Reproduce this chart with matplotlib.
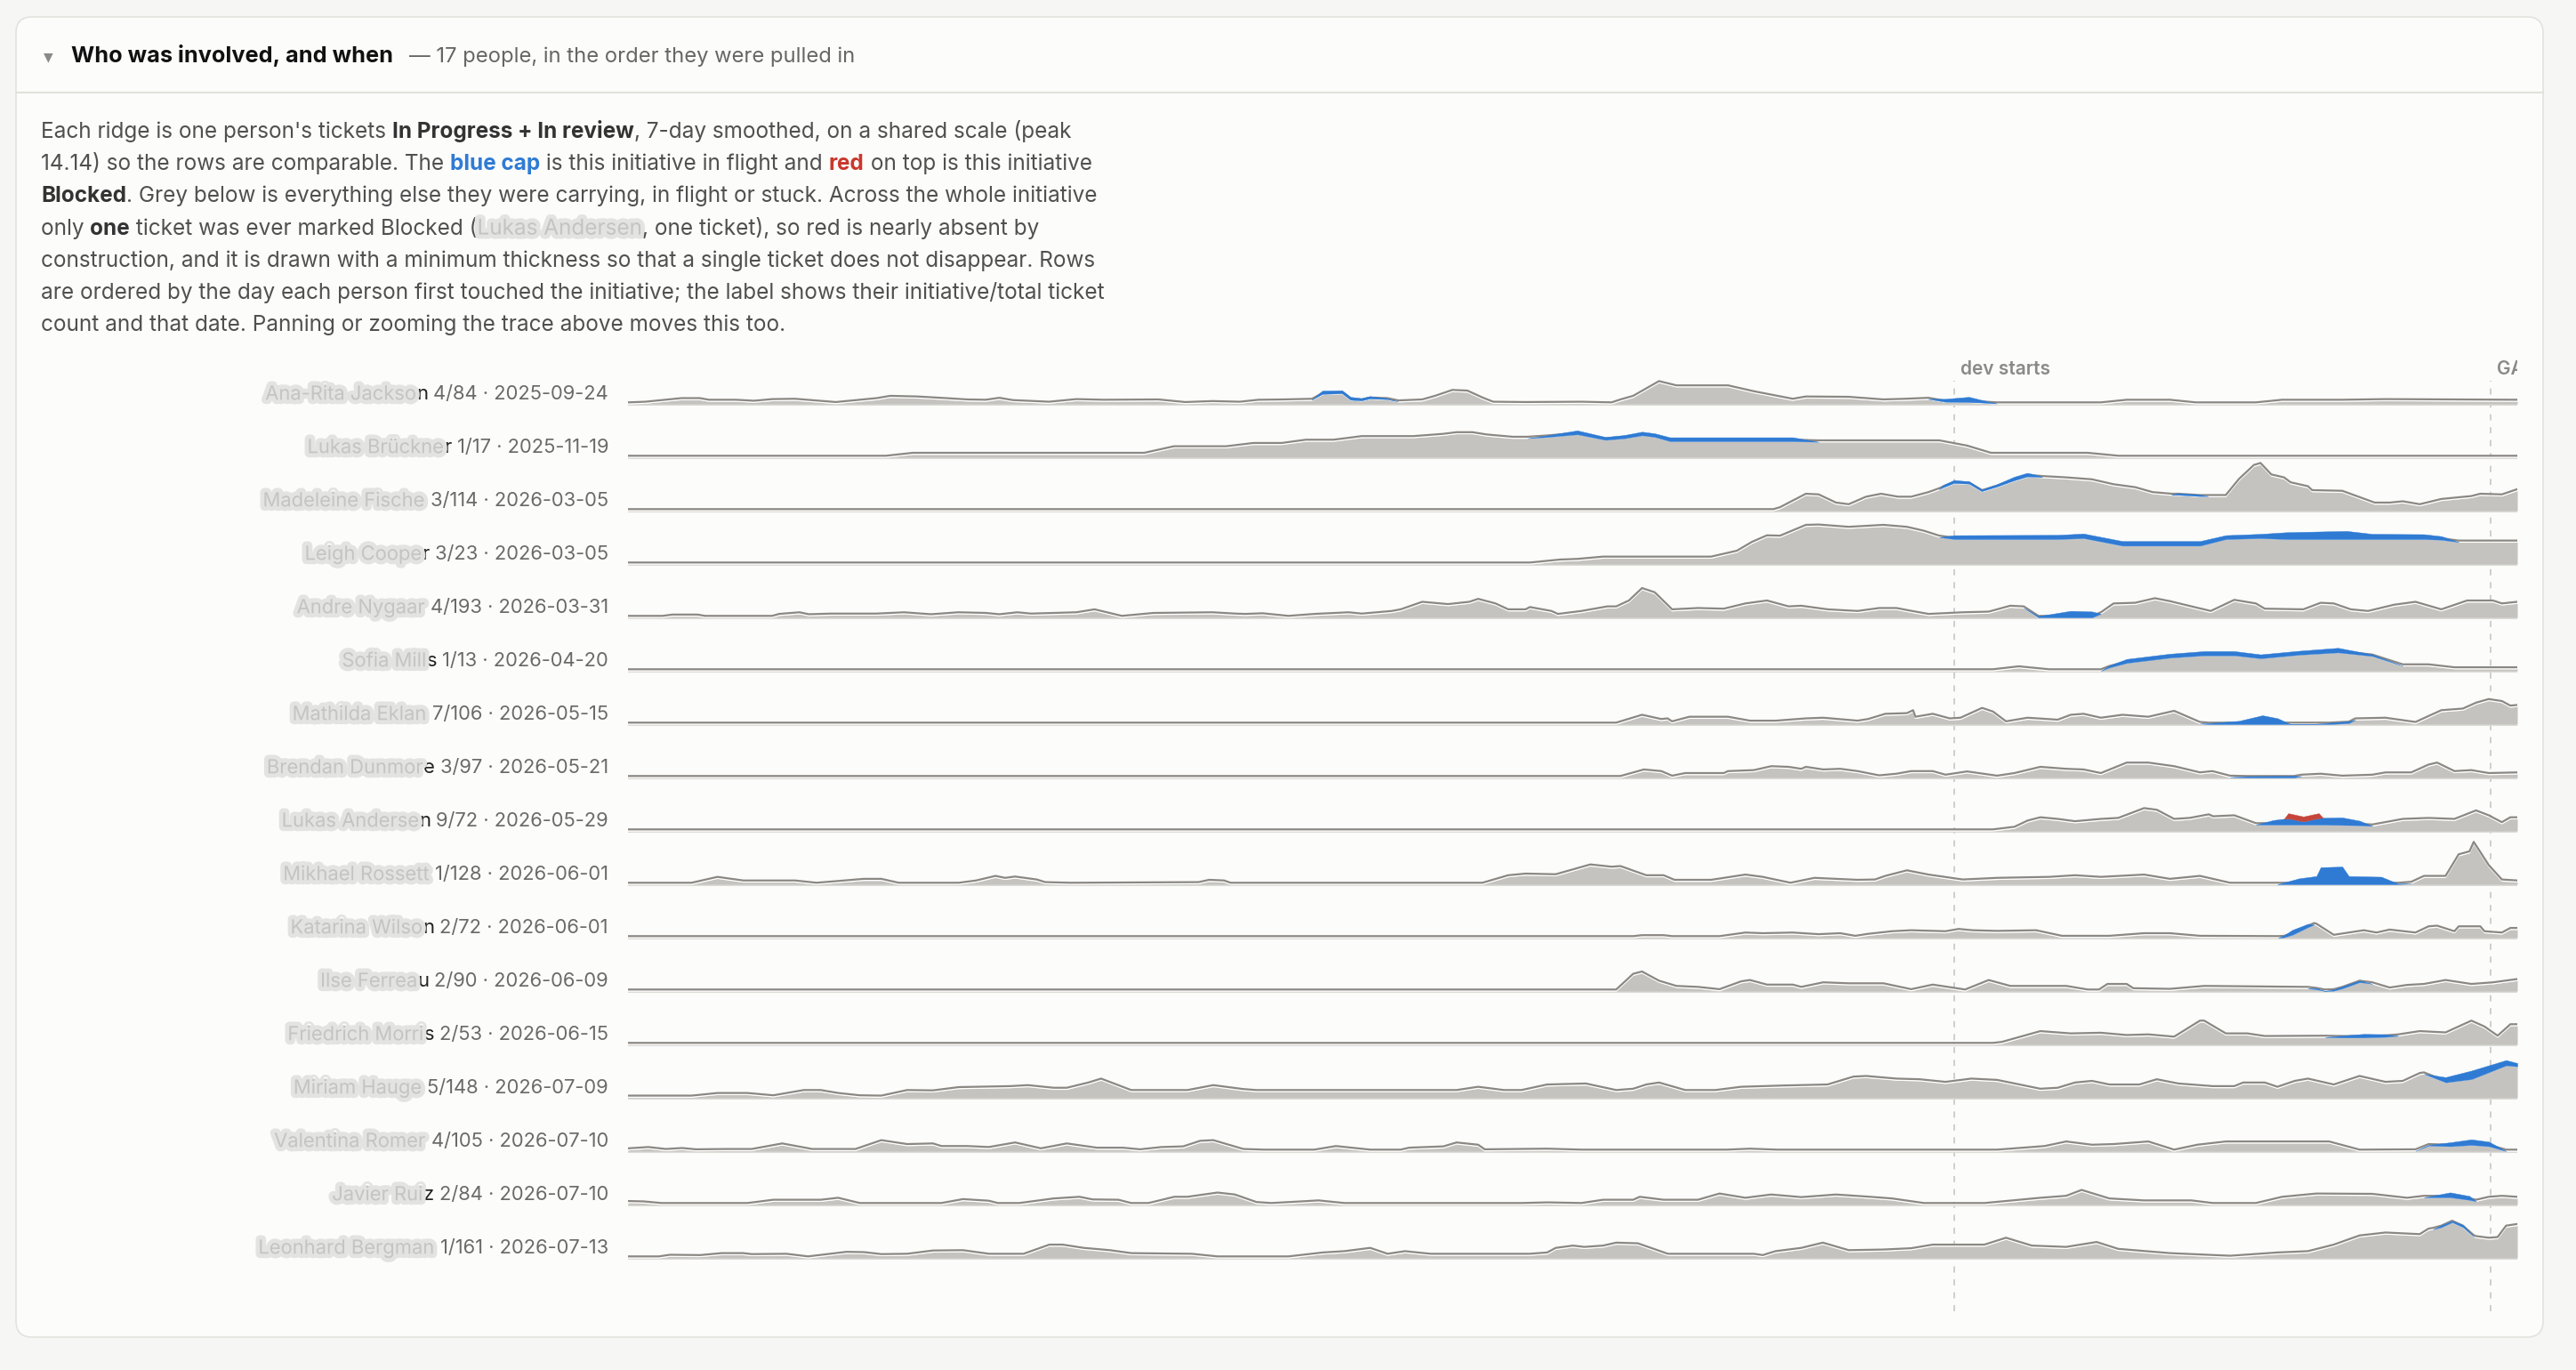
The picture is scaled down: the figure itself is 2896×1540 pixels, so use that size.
import numpy as np
import matplotlib
matplotlib.use("Agg")
import matplotlib.pyplot as plt
from matplotlib.patches import FancyBboxPatch
from matplotlib import patheffects as pe
from matplotlib import transforms

# ---- data (x = days since 2025-03-27, y = tickets, 7-day smoothed) ----
row_names = ["Ana-Rita Jackson", "Lukas Brückner", "Madeleine Fischer", "Leigh Cooper",
             "Andre Nygaard", "Sofia Mills", "Mathilda Ekland", "Brendan Dunmore",
             "Lukas Andersen", "Mikhael Rossetti", "Katarina Wilson", "Ilse Ferreau",
             "Friedrich Morris", "Miriam Haugen", "Valentina Romero", "Javier Ruiz",
             "Leonhard Bergmann"]
row_counts = ["4/84", "1/17", "3/114", "3/23", "4/193", "1/13", "7/106", "3/97", "9/72",
              "1/128", "2/72", "2/90", "2/53", "5/148", "4/105", "2/84", "1/161"]
row_dates = ["2025-09-24", "2025-11-19", "2026-03-05", "2026-03-05", "2026-03-31",
             "2026-04-20", "2026-05-15", "2026-05-21", "2026-05-29", "2026-06-01",
             "2026-06-01", "2026-06-09", "2026-06-15", "2026-07-09", "2026-07-10",
             "2026-07-10", "2026-07-13"]

dev_start_day = 344
ga_day = 483
last_day = 490

# grey: everything else each person carried
other_pts = [
    [(0, 0), (4.5, 0.2), (13.9, 1.3), (18.6, 1.3), (21, 0.8), (28, 0.8), (32.7, 0.5), (37.4, 1.0),
     (43.3, 1.1), (53.9, 0.1), (64.5, 1.3), (68, 2.0), (75.1, 1.8), (81, 1.4), (88, 0.9), (92.8, 0.8),
     (96.3, 1.4), (99.8, 0.7), (109.2, 0.2), (116.3, 1.0), (123.4, 0.8), (137.5, 0.9), (144.5, 0.1),
     (151.6, 0.4), (158.7, 0.2), (163.5, 0.8), (170, 0.9), (177.4, 1.1), (180.2, 2.9), (185.3, 3.1),
     (187.5, 1.1), (190.3, 0.9), (192.5, 1.5), (197, 1.3), (199.8, 0.6), (206, 0.9), (209.3, 2.0),
     (213.8, 3.8), (217.7, 3.6), (221.6, 1.5), (224.4, 0.2), (232.8, 0.1), (247.3, 0.2), (255.1, 0),
     (257.4, 0.9), (260.7, 2.0), (267.4, 6.5), (271.9, 5.2), (285.3, 5.2), (292, 3.4), (302.1, 1.1),
     (305.5, 1.8), (316.6, 1.7), (325.6, 0.9), (331.2, 1.1), (337.3, 1.4), (341.7, 0.5), (347.9, 0.4),
     (350.7, 0.3), (355.1, 0), (382, 0), (388.7, 0.8), (399.9, 0.8), (406.6, 0), (422.2, 0), (429, 0.8),
     (444.6, 0.8), (455.8, 1.0), (490, 0.8)],
    [(0, 0), (66.9, 0), (73.9, 0.9), (133.9, 0.9), (141.6, 2.9), (155.1, 2.9), (162.2, 3.9), (169.5, 3.9),
     (175.8, 4.9), (183, 4.9), (190.3, 6.0), (203.7, 6.0), (211.5, 6.7), (214.9, 7.2), (219, 7.2),
     (222.7, 6.5), (229.4, 5.8), (233.3, 5.8), (238.4, 6.2), (246.2, 7.0), (253.5, 5.3), (258.5, 5.8),
     (263, 6.7), (266.3, 6.2), (270.2, 4.9), (302.1, 4.9), (308.8, 4.7), (340.1, 4.7), (347.3, 3.1),
     (353.5, 0.9), (378.6, 0.9), (386.5, 0), (490, 0)],
    [(0, 0), (297.1, 0), (298.8, 0.6), (305.5, 4.7), (308.8, 4.5), (313.3, 2.0), (316.6, 1.5), (321.1, 3.8),
     (325, 4.7), (329.4, 3.8), (332.8, 3.8), (337.3, 5.2), (340.1, 6.4), (341.2, 7.0), (344, 8.3),
     (347.9, 8.1), (351.2, 5.8), (355.1, 7.2), (359.6, 9.1), (363, 10.3), (365.8, 10.2), (366.9, 10.1),
     (373, 9.7), (379.7, 9.1), (385.3, 7.6), (390.9, 6.7), (395.4, 5.2), (400.4, 4.7), (402.1, 4.7),
     (407.7, 4.3), (409.9, 4.3), (414.4, 4.3), (417.8, 9.2), (421.7, 13.5), (423.4, 14.1), (426.2, 10.6),
     (429.5, 9.7), (431.2, 8.2), (435.7, 7.0), (436.8, 5.8), (444.6, 5.6), (453, 2.0), (456.9, 2.0),
     (460.3, 2.4), (464.7, 1.5), (470.3, 3.1), (478.1, 4.0), (480.4, 4.7), (486, 4.5), (490, 6.1)],
    [(0, 0), (234, 0), (241.7, 0.9), (246.2, 1.1), (252.9, 1.8), (280.9, 1.8), (287.6, 3.6), (291.5, 6.3),
     (295.4, 8.3), (298.8, 8.2), (305.5, 11.5), (308.8, 11.6), (316.6, 10.9), (325.6, 11.5), (331.7, 10.9),
     (336.1, 9.7), (340.1, 8.2), (344, 7.6), (370.8, 7.6), (377.5, 7.9), (387.6, 5.6), (407.7, 5.6),
     (414.4, 7.6), (423.4, 7.9), (430.1, 7.6), (445.7, 7.6), (452.4, 7.6), (465.8, 7.6), (470.3, 7.4),
     (474.8, 6.7), (490, 6.7)],
    [(0, 0), (9, 0), (11.5, 0.4), (18, 0.4), (20, 0), (37.4, 0), (39.2, 0.6), (44.5, 1.1), (46.9, 0.5),
     (52.7, 0.7), (64.5, 0.7), (71.6, 1.1), (78.6, 0.5), (85.7, 1.1), (92.8, 0.9), (96.3, 0.5), (101, 1.1),
     (104.5, 0.7), (116.3, 1.1), (121, 2.0), (128.1, 0), (136.3, 0.9), (151.6, 1.1), (157.5, 0.7),
     (160.1, 0.6), (164.6, 0.8), (171.3, 0), (178, 0.6), (186.9, 1.1), (190.3, 0.7), (198.1, 1.5),
     (200.4, 2.0), (206, 4.3), (212.7, 3.6), (218.2, 4.3), (220.5, 5.2), (225, 3.8), (228.3, 2.0),
     (232.8, 2.0), (233.9, 2.7), (239.5, 1.5), (241.2, 0.6), (247.3, 1.5), (254, 2.9), (256.3, 2.9),
     (259.6, 4.7), (263, 8.5), (266.3, 7.2), (270.8, 2.0), (277.5, 2.4), (284.2, 2.2), (289.8, 3.8),
     (295.4, 4.7), (301, 2.9), (304.3, 3.1), (311.1, 2.0), (318.9, 1.5), (324.5, 2.4), (329, 2.4),
     (333, 1.5), (337.3, 0.6), (346.2, 1.1), (352.9, 1.3), (358.5, 3.1), (362, 2.9), (365.8, 0),
     (374.2, 0), (379.7, 0), (382, 1.1), (385.3, 3.8), (390.9, 4.0), (396, 5.4), (399.9, 4.5),
     (405.5, 2.9), (410.5, 1.5), (416.6, 4.9), (422.2, 3.8), (424.5, 2.2), (434.5, 2.0), (439, 4.0),
     (442.4, 3.8), (446.8, 2.0), (451.3, 1.5), (458, 3.4), (463.6, 4.3), (470.3, 2.0), (477, 4.7),
     (483.7, 4.7), (486, 3.8), (490, 4.3)],
    [(0, 0), (354, 0), (360.7, 0.9), (368.6, 0), (382, 0), (384.2, 1.0), (388.7, 2.4), (399.9, 4.0),
     (408.8, 4.7), (416.6, 4.7), (423.4, 3.8), (433.4, 4.9), (443.5, 5.6), (452.4, 4.5), (460.3, 1.5),
     (467, 1.5), (473.7, 0.6), (490, 0.6)],
    [(0, 0), (256.3, 0), (263, 2.4), (268, 1.1), (269.6, 1.3), (270.8, 0.4), (275.3, 1.8), (285.3, 1.8),
     (291, 0.6), (297.7, 0.6), (305.5, 1.3), (310, 1.5), (318.9, 0.6), (321.6, 1.1), (326.1, 2.7),
     (331.7, 2.9), (333.3, 3.8), (333.9, 1.8), (338.4, 2.7), (342.8, 1.3), (345.6, 1.5), (351.2, 4.5),
     (354, 3.4), (357.4, 0.4), (363, 1.5), (370.8, 0.9), (374.2, 2.4), (377.5, 2.7), (382, 1.5),
     (387.6, 2.4), (394.3, 1.8), (401, 3.6), (407.7, 0.2), (410, 0), (417.8, 0), (423.9, 0), (427.8, 0),
     (431.2, 0), (436.8, 0), (441.2, 0), (446.3, 0.3), (448, 1.3), (455.8, 1.5), (463.6, 0.2),
     (470.3, 3.8), (475.9, 4.3), (479.3, 6.1), (482.6, 7.2), (486, 6.6), (488.2, 5.2), (490, 5.4)],
    [(0, 0), (257.4, 0), (263.5, 2.0), (268, 1.5), (270.8, 0.1), (274.2, 0.9), (284.2, 0.9), (285.3, 1.5),
     (292, 1.8), (296.5, 3.0), (301, 2.8), (304.3, 2.2), (305.5, 2.8), (310, 2.0), (314.4, 2.2),
     (318.9, 1.5), (324.5, 0.2), (329, 0.7), (332.8, 1.5), (338.4, 1.5), (341.7, 0.4), (347.3, 1.4),
     (355.1, 0.1), (359.6, 0.9), (366.3, 2.8), (373, 2.2), (377.5, 2.0), (382, 0.9), (388.7, 4.1),
     (394.3, 4.1), (401, 3.0), (407.7, 1.1), (410.9, 1.5), (415.5, 0.1), (420, 0), (432, 0), (434, 0.4),
     (439, 0.7), (444.6, 0.1), (452.4, 0.4), (455.8, 1.1), (462.5, 1.1), (467, 3.5), (469.2, 4.1),
     (473.7, 1.5), (478.1, 1.8), (482.6, 0.9), (490, 1.1)],
    [(0, 0), (354, 0), (359.6, 0.8), (363, 2.7), (366.3, 3.7), (370.8, 3.2), (375.3, 2.5), (382, 3.2),
     (386.5, 3.5), (393.2, 6.5), (396.5, 6.0), (401, 3.2), (405, 3.5), (410, 4.6), (411.1, 4.0),
     (416.6, 4.3), (422.2, 1.9), (426.7, 1.9), (429.5, 1.9), (430.6, 1.9), (434.5, 1.9), (438.5, 1.9),
     (439.6, 1.9), (444.6, 1.8), (449.1, 1.7), (452.4, 1.5), (460.3, 3.2), (467, 3.5), (473.7, 3.2),
     (479.3, 5.8), (482.6, 4.3), (486, 2.2), (488.2, 3.7), (490, 3.7)],
    [(0, 0), (16.5, 0), (23.2, 1.8), (29.9, 0.7), (43.3, 0.7), (48.9, 0), (61.2, 1.2), (65.7, 1.2),
     (70.2, 0), (85.8, 0), (90.3, 0.7), (95.3, 2.1), (97.8, 1.5), (100.4, 1.9), (106, 1.0), (108.2, 0.2),
     (114.9, 0), (148, 0.2), (150.7, 0.9), (154.6, 0.7), (156.3, 0), (221.6, 0), (228.3, 2.3),
     (232.8, 2.8), (240.6, 2.6), (249.6, 5.6), (255.1, 4.9), (257.4, 5.1), (264.1, 2.3), (268.6, 2.3),
     (271.4, 0.9), (280.9, 0.9), (289.8, 2.5), (294.3, 1.8), (301.5, 0), (307.7, 1.5), (318.9, 0.9),
     (323.4, 1.0), (326.1, 2.1), (331.7, 3.8), (337.3, 2.5), (346.2, 1.0), (355.1, 1.5), (368.6, 1.8),
     (375.3, 2.3), (382, 1.8), (393.2, 2.5), (399.9, 1.2), (407.7, 2.1), (415.5, 0), (427.8, 0),
     (433.4, 0), (437.9, 0), (439, 0), (444.6, 0), (446.3, 0), (454.7, 0), (459.1, 0), (462.5, 0.3),
     (465.8, 2.1), (471.4, 2.1), (474.8, 8.7), (477.6, 9.6), (478.7, 12.5), (482.6, 5.4), (486, 1.0),
     (490, 0.7)],
    [(0, 0), (260.7, 0), (263, 0.3), (268.6, 0.3), (270.8, 0), (283.1, 0), (289.8, 1.1), (294.3, 0.9),
     (302.1, 1.1), (308.8, 0.6), (314.4, 0.9), (318.3, 0.1), (321.6, 0.7), (327.8, 1.5), (332.8, 1.8),
     (341.7, 1.5), (345.1, 2.2), (348.7, 1.8), (355.1, 1.6), (365.2, 1.8), (371.9, 0.1), (384.2, 0.1),
     (393.2, 0.9), (399.9, 0.9), (407.7, 0.1), (428, 0), (429.5, 0.1), (431.7, 0.9), (435.7, 3.2),
     (437.3, 4.0), (437.9, 3.8), (442.4, 0.4), (450.2, 1.8), (453.5, 1.1), (456.9, 2.0), (463.6, 1.1),
     (467, 3.0), (469.2, 3.2), (473.7, 1.5), (474.8, 3.0), (480.4, 3.0), (481.5, 1.5), (486, 1.1),
     (488.2, 2.5), (490, 2.5)],
    [(0, 0), (256.3, 0), (260.7, 4.8), (263, 5.5), (267.4, 2.7), (271.9, 1.1), (277.5, 0.8), (283.1, 0.1),
     (288.7, 2.5), (291, 2.9), (295.4, 1.5), (302.1, 1.5), (304.3, 0.8), (310, 2.2), (316.6, 1.9),
     (325.6, 1.9), (332.8, 0.1), (338.4, 1.5), (346.8, 0), (352.9, 2.9), (358.5, 1.1), (373, 1.1),
     (378.6, 0), (381.5, 0), (383.7, 1.7), (388.7, 1.7), (390.4, 0.4), (399.9, 0.2), (408.8, 1.1),
     (435.7, 0.8), (437.9, 0.5), (440.1, 0), (442.4, 0.1), (444.6, 0.8), (449.1, 2.7), (452.4, 2.2),
     (456.9, 0.6), (461.4, 1.4), (465.8, 1.7), (471.4, 2.9), (478.1, 1.7), (483.7, 2.2), (490, 3.2)],
    [(0, 0), (354, 0), (356.3, 0.3), (366.3, 3.6), (374.2, 2.9), (382, 3.1), (388.7, 2.4), (394.3, 2.6),
     (401, 1.9), (407.7, 6.8), (408.8, 6.8), (414.4, 2.9), (420, 2.9), (424.5, 2.1), (440.1, 2.2),
     (444.6, 2.1), (450.2, 2.1), (455.8, 2.3), (459.1, 2.6), (464.7, 3.6), (471.4, 3.2), (478.1, 6.8),
     (481.5, 5.0), (484.9, 2.2), (488.2, 5.7), (490, 5.7)],
    [(0, 0.2), (16.5, 0.2), (23.2, 1.0), (31, 1.0), (37.7, 0.3), (45.6, 1.9), (50, 1.9), (54.5, 1.0),
     (60.1, 0.3), (65.7, 0.2), (72.4, 1.9), (79.1, 1.8), (85.8, 2.8), (99.2, 3.1), (103.7, 3.4),
     (110.4, 2.6), (113.8, 2.6), (119.4, 4.2), (122.7, 5.4), (130.5, 1.9), (145.1, 1.9), (151.8, 3.4),
     (159.6, 2.2), (163, 1.9), (214.9, 1.9), (220.5, 2.9), (227.2, 1.9), (231.7, 1.9), (238.4, 3.6),
     (248.4, 3.9), (256.3, 1.9), (260.7, 2.3), (264.1, 3.6), (267.4, 4.2), (274.2, 1.9), (282, 1.9),
     (288.7, 2.9), (299.9, 3.3), (311.1, 3.6), (317.8, 6.0), (321.1, 6.2), (329, 5.4), (335, 5.2),
     (341.7, 4.4), (348.4, 5.4), (355.1, 5.0), (366.3, 2.3), (370.8, 2.6), (375.3, 4.2), (379.7, 4.7),
     (384.2, 3.6), (392, 3.6), (396.5, 5.2), (402.1, 3.9), (411, 3.1), (416.6, 3.1), (418.9, 4.2),
     (424.5, 4.2), (427.8, 2.9), (432.3, 4.7), (435.7, 5.4), (442.4, 3.6), (449.1, 6.2), (455.8, 4.4),
     (460.3, 4.7), (464.7, 7.1), (465.8, 7.3), (471.4, 4.7), (478.1, 5.7), (482.6, 7.8), (487.1, 9.9),
     (490, 9.6)],
    [(0, 0.4), (5.3, 0.8), (9.8, 0.2), (14, 0.5), (17.6, 0.1), (25.4, 0.2), (32.1, 0.2), (40, 1.9),
     (47.8, 0.2), (59, 0.2), (65.7, 2.9), (72.4, 1.7), (79.1, 1.9), (81.3, 1.1), (88, 1.1), (93.6, 0.8),
     (100.4, 2.2), (107.1, 0.4), (113.8, 1.9), (121.6, 0.6), (128.3, 0.6), (132.8, 0.1), (138.4, 0.8),
     (144, 1.0), (148.4, 2.7), (151.8, 2.9), (159.6, 0.2), (165, 0), (178, 0), (183.6, 1.1), (192.5, 0),
     (200.4, 0), (202.6, 0.6), (211.5, 1.0), (214.9, 2.2), (220.5, 1.5), (222.2, 0.1), (238.4, 0.3),
     (247.3, 0), (285, 0), (291, 0.3), (298, 0), (355.1, 0), (359.6, 0.4), (367.4, 1.1), (373, 2.5),
     (379.7, 1.5), (385.3, 1.7), (394.3, 2.5), (401, 0), (407, 1.5), (414.4, 2.5), (441.2, 2.5),
     (449.1, 0), (463.6, 0.1), (467, 1.7), (472.6, 1.5), (478.1, 1.9), (482.6, 1.5), (487.1, 0), (490, 0)],
    [(0, 0.6), (4, 0.5), (8.7, 0), (31, 0), (37.7, 1.0), (50, 1.0), (54.5, 1.6), (60.1, 0), (81.3, 0),
     (86.9, 1.2), (93.6, 0.7), (95.9, 0), (101.5, 0), (110.4, 1.4), (117.1, 1.9), (120.5, 1.1),
     (127.2, 1.0), (130.5, 0), (135, 0), (141.7, 1.9), (145.1, 1.9), (152.9, 3.2), (157.4, 2.6),
     (163, 0.3), (166.8, 0), (174.6, 0.5), (179.1, 0.8), (185.8, 0), (231.7, 0), (238.4, 0.2), (247.3, 0),
     (252.9, 1.0), (260.7, 1.0), (262.4, 1.9), (268.6, 1.0), (277.5, 1.0), (283.1, 2.9), (289.8, 1.6),
     (296.5, 2.6), (304.3, 1.8), (313.3, 2.6), (322.2, 1.9), (327.8, 1.4), (336.1, 0), (351.8, 0),
     (366.3, 1.6), (373, 2.2), (377, 4.0), (384.2, 1.4), (393.2, 0.8), (405.5, 0.8), (411, 0), (422.2, 0),
     (429, 1.9), (437.9, 2.9), (452.4, 2.8), (461.4, 1.6), (465.8, 2.2), (472.6, 2.2), (477.6, 1.4),
     (479.3, 1.0), (482.6, 1.9), (486, 2.2), (490, 1.9)],
    [(0, 0), (8, 0), (10.9, 0.5), (18.7, 0.4), (24.3, 1.0), (29.9, 1.0), (32.1, 0.7), (41.1, 0.8),
     (46.7, 0), (56.7, 1.4), (61.2, 1.3), (65.7, 0.7), (72.4, 0.8), (79.1, 1.8), (86.9, 1.9), (93.6, 0.8),
     (102.6, 0.8), (109.3, 3.6), (112.7, 3.6), (118.2, 2.6), (125, 1.9), (130.5, 1.0), (146.2, 0.8),
     (152.9, 0), (171.3, 0), (180.2, 1.2), (185.8, 1.6), (192.5, 2.6), (197, 0.8), (201.5, 1.6),
     (208.2, 0.8), (233.9, 0.8), (238.4, 1.2), (240.6, 2.6), (245.1, 3.3), (248, 2.9), (252.9, 3.3),
     (256.3, 4.2), (261.9, 4.0), (269.7, 0.8), (292, 0.8), (294.3, 0.4), (297.6, 1.6), (304.3, 2.6),
     (309.9, 4.2), (316.6, 1.9), (325.6, 2.1), (332.8, 2.5), (338.4, 3.6), (351.8, 3.6), (357.4, 5.7),
     (364.1, 3.3), (373, 2.9), (380.9, 4.4), (386.5, 2.3), (399.9, 1.0), (415.5, 0.2), (427.8, 1.2),
     (435.7, 1.6), (442.4, 3.6), (449.1, 6.4), (455.8, 7.3), (464.7, 6.8), (467, 8.5), (468.1, 8.7),
     (470.3, 9.4), (473.1, 10.9), (475.9, 9.4), (478.7, 6.5), (479.3, 6.2), (482.6, 5.7), (484.9, 5.9),
     (487.1, 9.4), (490, 9.9)],
]

# blue cap: this initiative in flight (days match the grey days of the same row)
cap_pts = [
    [(177.4, 0), (180.2, 1.0), (185.3, 0.9), (187.5, 0.9), (190.3, 0.7), (192.5, 0.7), (197, 0.3),
     (199.8, 0), (337.3, 0), (341.7, 0.9), (347.9, 1.6), (350.7, 0.9), (355.1, 0)],
    [(233.3, 0), (238.4, 0.5), (246.2, 1.2), (253.5, 0.9), (258.5, 1.0), (263, 1.1), (266.3, 1.1),
     (270.2, 1.2), (302.1, 1.2), (308.8, 0)],
    [(340.1, 0), (341.2, 0.7), (344, 0.9), (347.9, 0.7), (351.2, 0.5), (355.1, 0.7), (359.6, 1.1),
     (363, 1.1), (365.8, 0.5), (366.9, 0), (400.4, 0), (402.1, 0.5), (407.7, 0.5), (409.9, 0)],
    [(340.1, 0), (344, 1.2), (370.8, 1.3), (377.5, 1.4), (387.6, 1.4), (407.7, 1.4), (414.4, 1.2),
     (423.4, 1.3), (430.1, 2.1), (445.7, 2.5), (452.4, 1.6), (465.8, 1.5), (470.3, 1.1), (474.8, 0)],
    [(362, 0), (365.8, 0.4), (374.2, 2.0), (379.7, 1.8), (382, 0)],
    [(382, 0), (384.2, 0.6), (388.7, 1.2), (399.9, 1.2), (408.8, 1.3), (416.6, 1.3), (423.4, 1.2),
     (433.4, 1.2), (443.5, 1.4), (452.4, 0.5), (460.3, 0)],
    [(407.7, 0), (410, 0.3), (417.8, 1.0), (423.9, 2.7), (427.8, 1.8), (431.2, 0), (436.8, 0),
     (441.2, 0.4), (446.3, 0.6), (448, 0)],
    [(415.5, 0), (420, 0.4), (432, 0.5), (434, 0)],
    [(422.2, 0), (426.7, 1.4), (429.5, 1.8), (430.6, 1.9), (434.5, 1.0), (438.5, 2.0), (439.6, 2.1),
     (444.6, 2.3), (449.1, 1.4), (452.4, 0)],
    [(427.8, 0), (433.4, 1.8), (437.9, 2.5), (439, 5.2), (444.6, 5.4), (446.3, 2.5), (454.7, 2.3),
     (459.1, 0.2), (462.5, 0)],
    [(428, 0), (429.5, 0.6), (431.7, 1.5), (435.7, 1.0), (437.3, 0)],
    [(435.7, 0), (437.9, 0.4), (442.4, 0.4), (444.6, 0.6), (449.1, 0.5), (452.4, 0)],
    [(440.1, 0), (444.6, 0.6), (450.2, 1.1), (455.8, 0.8), (459.1, 0)],
    [(465.8, 0), (471.4, 1.6), (478.1, 2.6), (482.6, 2.1), (487.1, 1.6), (490, 1.0)],
    [(463.6, 0), (467, 0.2), (472.6, 1.2), (478.1, 1.7), (482.6, 1.4), (487.1, 0)],
    [(465.8, 0), (472.6, 1.5), (477.6, 1.2), (479.3, 0)],
    [(468.1, 0), (470.3, 0.6), (473.1, 0.4), (475.9, 0.7), (478.7, 0)],
]

# red: this initiative blocked (only one row has any)
blocked_row = 8
blocked_pts = [(429.5, 0), (430.6, 1.6), (434.5, 1.5), (438.5, 1.5), (439.6, 0)]

# ---- style ----
W, H = 2896, 1540
PX_PER_TICKET = 3.68
ROW = 60 / PX_PER_TICKET
GREY_FILL = "#c5c3bf"
GREY_LINE = "#8b8883"
BLUE = "#2f7bd4"
RED = "#c5453a"
TEXT = "#505050"
LABEL = 15.8
plt.rcParams["font.family"] = ["Inter", "DejaVu Sans"]

fig = plt.figure(figsize=(W / 100, H / 100), dpi=100)
fig.patch.set_facecolor("#f6f6f4")
bg = fig.add_axes([0, 0, 1, 1])
bg.set_xlim(0, W)
bg.set_ylim(H, 0)
bg.axis("off")
renderer = fig.canvas.get_renderer()

card = FancyBboxPatch((18, 19), 2841, 1484, boxstyle="round,pad=0,rounding_size=18",
                      facecolor="#fcfcfb", edgecolor="#e2e2de", lw=1.2)
bg.add_patch(card)
bg.plot([18.5, 2858.5], [104, 104], color="#e1e0db", lw=1.5)


def text_w(s, **kw):
    # width in px, trailing/leading spaces included
    a = bg.text(0, 0, "|" + s + "|", **kw)
    b = bg.text(0, 0, "||", **kw)
    w = a.get_window_extent(renderer).width - b.get_window_extent(renderer).width
    a.remove()
    b.remove()
    return w


blur = [pe.withStroke(linewidth=7, foreground="#e3e3e1")]

# header
bg.text(54, 64, "▼", fontsize=10, color="#8a8a86", ha="center", va="center",
        family="DejaVu Sans")
bg.text(80, 70, "Who was involved, and when", fontsize=18.2, fontweight="bold",
        color="#111111", va="baseline")
bg.text(460, 70, "— 17 people, in the order they were pulled in", fontsize=17.1,
        color="#666666", va="baseline")

# paragraph
PARA = 17.5
N = dict(color=TEXT)
B = dict(color="#333333", fontweight="bold")
para = [
    [("Each ridge is one person's tickets ", N), ("In Progress + In review", B),
     (", 7-day smoothed, on a shared scale (peak", N)],
    [("14.14) so the rows are comparable. The ", N), ("blue cap", dict(color=BLUE, fontweight="bold")),
     (" is this initiative in flight and ", N), ("red", dict(color="#c9372c", fontweight="bold")),
     (" on top is this initiative", N)],
    [("Blocked", B), (". Grey below is everything else they were carrying, in flight or stuck. "
                      "Across the whole initiative", N)],
    [("only ", N), ("one", B), (" ticket was ever marked Blocked (", N),
     (row_names[blocked_row], dict(color="#c4c4c4", path_effects=blur)),
     (", one ticket), so red is nearly absent by", N)],
    [("construction, and it is drawn with a minimum thickness so that a single ticket does not "
      "disappear. Rows", N)],
    [("are ordered by the day each person first touched the initiative; the label shows their "
      "initiative/total ticket", N)],
    [("count and that date. Panning or zooming the trace above moves this too.", N)],
]
for k, parts in enumerate(para):
    x = 46
    y = 155 + 36.2 * k
    for s, kw in parts:
        bg.text(x, y, s, fontsize=PARA, va="baseline", **kw)
        x += text_w(s, fontsize=PARA, **kw)

# ridges
ax = fig.add_axes([706 / W, (H - 1480) / H, 2124 / W, (1480 - 395) / H])
ax.set_xlim(0, last_day)
ax.set_ylim(-(1480 - 454) / PX_PER_TICKET, (454 - 395) / PX_PER_TICKET)
ax.axis("off")

up = transforms.offset_copy(ax.transData, fig=fig, x=0, y=1.7, units="dots")
down = transforms.offset_copy(ax.transData, fig=fig, x=0, y=-1.0, units="dots")

y_top = (454 - 428) / PX_PER_TICKET
y_bot = -(1474 - 454) / PX_PER_TICKET
ax.vlines([dev_start_day, ga_day], y_bot, y_top, colors="#c2c2c0", lw=1.1,
          linestyles=(0, (4.5, 5)), zorder=1)
ax.text(dev_start_day + 1.6, (454 - 421) / PX_PER_TICKET, "dev starts", fontsize=15,
        fontweight="semibold", color="#8a8a88", va="baseline", clip_on=True)
ax.text(ga_day + 1.6, (454 - 421) / PX_PER_TICKET, "GA", fontsize=15,
        fontweight="semibold", color="#8a8a88", va="baseline", clip_on=True)

for i in range(len(row_names)):
    base = -i * ROW
    d = np.array([p[0] for p in other_pts[i]], dtype=float)
    v = np.array([p[1] for p in other_pts[i]], dtype=float)
    z = 2 + i * 0.1
    ax.hlines(base, 0, last_day, colors="#dddbd6", lw=1.5, zorder=z, transform=down)
    ax.fill_between(d, base, base + v, color=GREY_FILL, lw=0, zorder=z)
    ax.plot(d, base + v, color="white", lw=1.0, zorder=z + 0.01)
    ax.plot(d, base + v, color=GREY_LINE, lw=1.6, zorder=z + 0.02, transform=up,
            solid_joinstyle="round")

    capd = dict(cap_pts[i])
    c = np.array([capd.get(x, 0.0) for x in d])
    on = np.convolve(c > 0, [1, 1, 1], mode="same") > 0
    ax.fill_between(d, base + v, base + v + c, where=on, color=BLUE, lw=0.3,
                    edgecolor=BLUE, zorder=z + 0.03)
    if i == blocked_row:
        bd = dict(blocked_pts)
        r = np.array([bd.get(x, 0.0) for x in d])
        onr = np.convolve(r > 0, [1, 1, 1], mode="same") > 0
        ax.fill_between(d, base + v + c, base + v + c + r, where=onr, color=RED, lw=0.3,
                        edgecolor=RED, zorder=z + 0.04)

    # row label: blurred name, then count and first-touch date
    y_px = H - ax.transData.transform((0, base + 4.7 / PX_PER_TICKET))[1]
    lab = row_counts[i] + " · " + row_dates[i]
    bg.text(684, y_px, lab, fontsize=LABEL, color="#6a6a6a", ha="right", va="baseline")
    xr = 684 - text_w(" " + lab, fontsize=LABEL)
    name = row_names[i]
    if len(row_counts[i]) <= 4:
        bg.text(xr, y_px, name[-1], fontsize=LABEL, color="#222222", ha="right", va="baseline")
        xr -= text_w(name[-1], fontsize=LABEL)
    bg.text(xr, y_px, name[:-1], fontsize=LABEL, color="#c4c4c4", ha="right", va="baseline",
            path_effects=blur)

fig.savefig("out.png", dpi=100, facecolor=fig.get_facecolor())
